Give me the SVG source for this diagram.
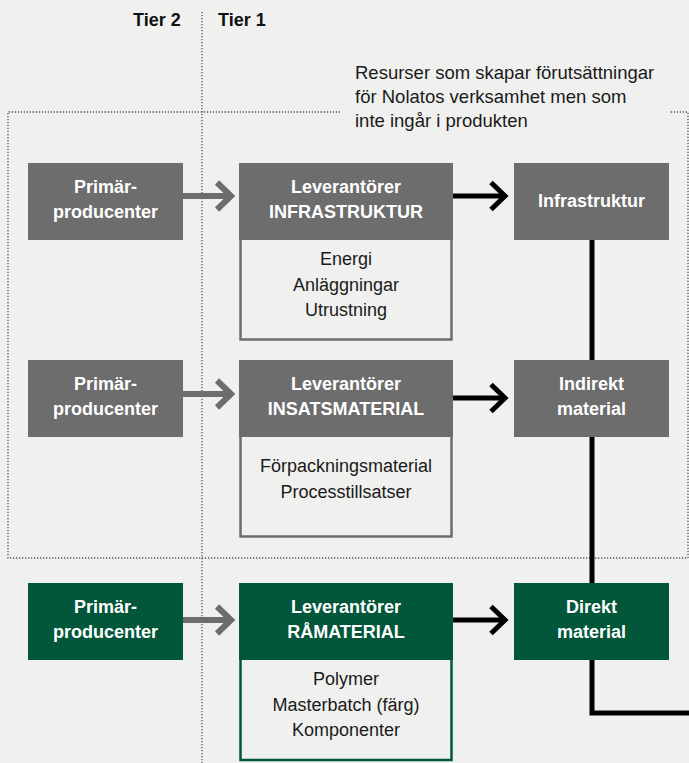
<svg xmlns="http://www.w3.org/2000/svg" width="689" height="763" viewBox="0 0 689 763">
<style>
.bg{fill:#f0f0ef}
.gray{fill:#6d6d6d}
.green{fill:#02573a}
.obox{fill:none;stroke-width:2.5}
.og{stroke:#6d6d6d}
.ogr{stroke:#02573a}
.dot{fill:none;stroke:#555;stroke-width:1.3;stroke-dasharray:1.3 1.7}
.hb{font-family:"Liberation Sans",Arial,sans-serif;font-weight:bold;font-size:18px;fill:#fff;text-anchor:middle}
.tb{font-family:"Liberation Sans",Arial,sans-serif;font-size:18px;fill:#1a1a1a;text-anchor:middle}
.tier{font-family:"Liberation Sans",Arial,sans-serif;font-weight:bold;font-size:18px;fill:#111}
.note{font-family:"Liberation Sans",Arial,sans-serif;font-size:18.5px;fill:#1a1a1a}
.ag{fill:none;stroke:#6d6d6d;stroke-width:6}
.ab{fill:none;stroke:#000;stroke-width:5}
</style>
<rect class="bg" x="0" y="0" width="689" height="763"/>
<g id="guides">
<line class="dot" x1="202" y1="12" x2="202" y2="763"/>
<polyline class="dot" points="340,112 8,112 8,558 688,558 688,112 670,112"/>
</g>
<g id="labels">
<text class="tier" x="133" y="26">Tier 2</text>
<text class="tier" x="218" y="26">Tier 1</text>
<text class="note" x="355" y="79">Resurser som skapar förutsättningar</text>
<text class="note" x="355" y="103">för Nolatos verksamhet men som</text>
<text class="note" x="355" y="127">inte ingår i produkten</text>
</g>
<g id="connectors">
<polyline class="ab" points="592,240 592,713 689,713" stroke-linejoin="miter"/>
<line class="ag" x1="183" y1="196" x2="231" y2="196"/>
<polyline class="ag" points="217,182.5 231,196 217,209.5"/>
<line class="ab" x1="453" y1="196" x2="505" y2="196"/>
<polyline class="ab" points="491,182.5 505,196 491,209.5"/>
<line class="ag" x1="183" y1="394" x2="231" y2="394"/>
<polyline class="ag" points="217,380.5 231,394 217,407.5"/>
<line class="ab" x1="453" y1="398" x2="505" y2="398"/>
<polyline class="ab" points="491,384.5 505,398 491,411.5"/>
<line class="ag" x1="183" y1="620" x2="231" y2="620"/>
<polyline class="ag" points="217,606.5 231,620 217,633.5"/>
<line class="ab" x1="453" y1="620" x2="505" y2="620"/>
<polyline class="ab" points="491,606.5 505,620 491,633.5"/>
</g>
<g id="prim1"><rect class="gray" x="28" y="163" width="155" height="77"/>
<text class="hb" x="105.5" y="193">Primär-</text><text class="hb" x="105.5" y="218">producenter</text></g>
<g id="lev1"><rect class="obox og" x="240.5" y="238" width="211" height="101.5"/>
<rect class="gray" x="239" y="163" width="214" height="77"/>
<text class="hb" x="346" y="193">Leverantörer</text><text class="hb" x="346" y="218">INFRASTRUKTUR</text>
<text class="tb" x="346" y="265">Energi</text><text class="tb" x="346" y="290.5">Anläggningar</text><text class="tb" x="346" y="316">Utrustning</text></g>
<g id="infra"><rect class="gray" x="514" y="163" width="155" height="77"/>
<text class="hb" x="591.5" y="207">Infrastruktur</text></g>
<g id="prim2"><rect class="gray" x="28" y="360" width="155" height="77"/>
<text class="hb" x="105.5" y="390">Primär-</text><text class="hb" x="105.5" y="414.5">producenter</text></g>
<g id="lev2"><rect class="obox og" x="240.5" y="435" width="211" height="101.5"/>
<rect class="gray" x="239" y="360" width="214" height="77"/>
<text class="hb" x="346" y="390">Leverantörer</text><text class="hb" x="346" y="415">INSATSMATERIAL</text>
<text class="tb" x="346" y="472">Förpackningsmaterial</text><text class="tb" x="346" y="497.5">Processtillsatser</text></g>
<g id="indirekt"><rect class="gray" x="514" y="360" width="155" height="77"/>
<text class="hb" x="591.5" y="390">Indirekt</text><text class="hb" x="591.5" y="415">material</text></g>
<g id="prim3"><rect class="green" x="28" y="583" width="155" height="77"/>
<text class="hb" x="105.5" y="613">Primär-</text><text class="hb" x="105.5" y="638">producenter</text></g>
<g id="lev3"><rect class="obox ogr" x="240.5" y="658" width="211" height="102"/>
<rect class="green" x="239" y="583" width="214" height="77"/>
<text class="hb" x="346" y="613">Leverantörer</text><text class="hb" x="346" y="638">RÅMATERIAL</text>
<text class="tb" x="346" y="685">Polymer</text><text class="tb" x="346" y="710.5">Masterbatch (färg)</text><text class="tb" x="346" y="736">Komponenter</text></g>
<g id="direkt"><rect class="green" x="514" y="583" width="155" height="77"/>
<text class="hb" x="591.5" y="613">Direkt</text><text class="hb" x="591.5" y="638">material</text></g>
</svg>
